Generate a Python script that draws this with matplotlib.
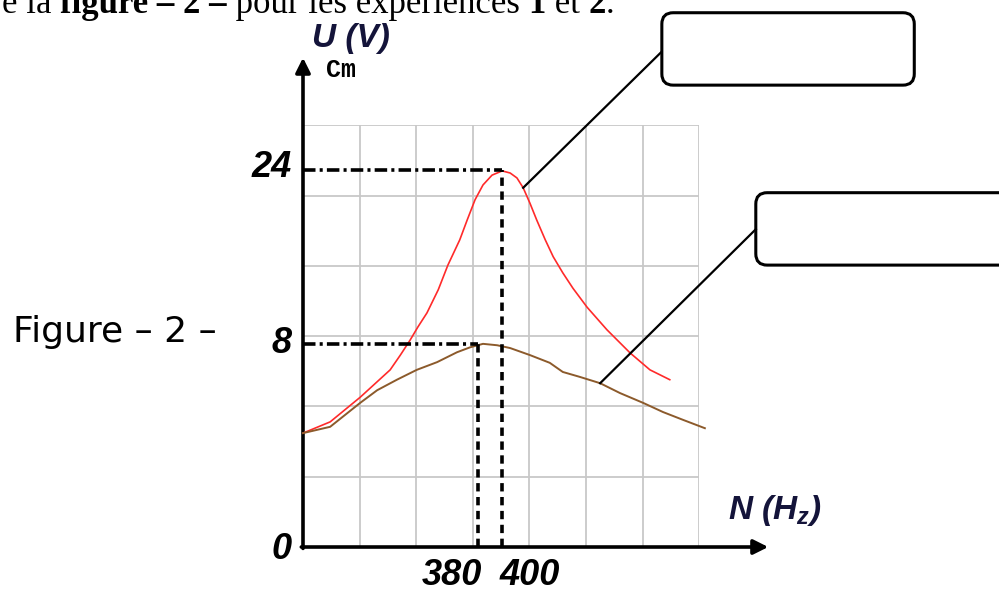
import numpy as np
import matplotlib
matplotlib.use("Agg")
import matplotlib.pyplot as plt
from matplotlib.patches import FancyBboxPatch

# curves, in grid divisions (1 div = one grid square)
n_red = [0.0, 0.48, 1.01, 1.54, 1.72, 1.89, 2.03, 2.19, 2.39, 2.56, 2.77, 2.90, 3.04, 3.18,
         3.34, 3.52, 3.66, 3.78, 3.89, 4.01, 4.13, 4.28, 4.42, 4.59, 4.77, 5.02, 5.37, 5.78,
         6.13, 6.48]
u_red = [1.62, 1.78, 2.13, 2.52, 2.73, 2.94, 3.13, 3.33, 3.66, 4.01, 4.37, 4.65, 4.94, 5.15,
         5.29, 5.35, 5.32, 5.25, 5.11, 4.89, 4.65, 4.37, 4.13, 3.90, 3.68, 3.41, 3.09, 2.76,
         2.52, 2.38]

n_brown = [0.0, 0.48, 1.01, 1.31, 1.66, 2.01, 2.37, 2.72, 2.95, 3.18, 3.43, 3.66,
           4.01, 4.36, 4.59, 4.89, 5.25, 5.60, 6.01, 6.36, 6.71, 7.10]
u_brown = [1.62, 1.71, 2.05, 2.23, 2.38, 2.52, 2.63, 2.77, 2.84, 2.89, 2.87, 2.83,
           2.73, 2.62, 2.49, 2.42, 2.33, 2.19, 2.05, 1.92, 1.81, 1.69]

# resonance points (N in div, U in div) and their labels
res_n = [3.52, 3.09]
res_u = [5.36, 2.89]
y_labels = ["0", "8", "24"]
y_label_pos = [-0.04, 2.90, 5.40]
x_labels = ["380", "400"]

plt.rcParams['lines.scale_dashes'] = False
plt.rcParams['mathtext.fontset'] = 'custom'
plt.rcParams['mathtext.it'] = 'Liberation Sans:italic:bold'

num_font = ['Liberation Sans', 'DejaVu Sans']
num_kw = dict(fontsize=26, fontweight='bold', fontstyle='italic', family=num_font)

fig = plt.figure(figsize=(9.99, 5.92), dpi=100)
ax = fig.add_axes([0.3033, 0.0760, 0.3966, 0.7125])
ax.set_xlim(0, 7)
ax.set_ylim(0, 6)

# grid
ax.set_xticks(np.arange(0, 8))
ax.set_yticks(np.arange(0, 7))
ax.grid(True, color='#c8c8c8', lw=1.3)
ax.tick_params(length=0, labelbottom=False, labelleft=False)
for s in ax.spines.values():
    s.set_visible(False)

# axes with arrows
ax.annotate("", xy=(0, 6.96), xytext=(0, -0.02), annotation_clip=False,
            arrowprops=dict(arrowstyle='-|>', lw=2.6, color='black', mutation_scale=22,
                            shrinkA=0, shrinkB=0))
ax.annotate("", xy=(8.22, 0), xytext=(-0.03, 0), annotation_clip=False,
            arrowprops=dict(arrowstyle='-|>', lw=2.6, color='black', mutation_scale=22,
                            shrinkA=0, shrinkB=0))

# curves
ax.plot(n_red, u_red, color='#ff2a2a', lw=1.2, clip_on=False, zorder=3)
ax.plot(n_brown, u_brown, color='#8c5a2b', lw=1.4, clip_on=False, zorder=3)

# guide lines to the maxima
for n, u in zip(res_n, res_u):
    ax.plot([0, n], [u, u], color='black', lw=2.6, dashes=(9, 3, 2.2, 3), zorder=4)
    ax.plot([n, n], [0, u], color='black', lw=2.6, dashes=(6, 4), zorder=4)

# tick labels
for lab, pos in zip(y_labels, y_label_pos):
    ax.text(-0.2, pos, lab, ha='right', va='center', **num_kw)
ax.text(3.16, -0.16, x_labels[0], ha='right', va='top', **num_kw)
ax.text(3.48, -0.16, x_labels[1], ha='left', va='top', **num_kw)

# axis names
ax.text(0.16, 7.02, "U (V)", ha='left', va='bottom', fontsize=24, fontweight='bold',
        fontstyle='italic', family=num_font, color='#14143a', clip_on=False)
ax.text(0.40, 6.79, "Cm", ha='left', va='center', fontsize=18, fontweight='bold',
        family=['Liberation Mono', 'DejaVu Sans Mono'], clip_on=False)
ax.text(7.51, 0.27, r"N (H$_z$)", ha='left', va='bottom', fontsize=24, fontweight='bold',
        fontstyle='italic', family=num_font, color='#14143a', clip_on=False)

# empty callout boxes with leader lines
boxes = [((6.34, 6.57), 4.46, 1.03), ((8.00, 4.01), 4.6, 1.03)]
for (x0, y0), w, h in boxes:
    p = FancyBboxPatch((x0, y0), w, h, boxstyle="round,pad=0,rounding_size=0.2",
                       mutation_aspect=0.805, fc='white', ec='black', lw=2.2,
                       clip_on=False, zorder=5)
    ax.add_patch(p)
ax.plot([3.89, 6.33], [5.11, 7.04], color='black', lw=1.6, clip_on=False, zorder=5)
ax.plot([5.25, 8.00], [2.33, 4.52], color='black', lw=1.6, clip_on=False, zorder=5)

fig.text(0.013, 0.4223, "Figure \u2013 2 \u2013", ha='left', va='baseline', fontsize=26,
         family=['DejaVu Sans'])

# clipped sentence at the top, mixed regular / bold
pieces = [("e la ", 'normal'), ("figure \u2013 2 \u2013", 'bold'),
          (" pour les exp\u00e9riences ", 'normal'), ("1", 'bold'), (" et ", 'normal'),
          ("2", 'bold'), (".", 'normal')]
renderer = fig.canvas.get_renderer()
x = 2.0
for s, w in pieces:
    t = fig.text(x / 999, (592 - 13.3) / 592, s, ha='left', va='baseline', fontsize=25,
                 fontweight=w, family=['Liberation Serif', 'DejaVu Serif'])
    x += t.get_window_extent(renderer).width

fig.savefig("out.png", dpi=100)
